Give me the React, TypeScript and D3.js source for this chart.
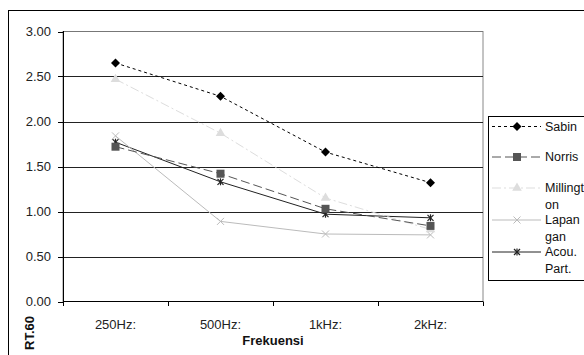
import React from 'react';
import * as d3 from 'd3';

const categories = ['250Hz:', '500Hz:', '1kHz:', '2kHz:'];
const yTicks = [0, 0.5, 1, 1.5, 2, 2.5, 3];

const sabin = [2.65, 2.28, 1.66, 1.32];
const norris = [1.72, 1.42, 1.03, 0.84];
const millington = [2.47, 1.87, 1.15, 0.8];
const lapangan = [1.84, 0.89, 0.75, 0.74];
const acouPart = [1.77, 1.33, 0.97, 0.93];

const seriesNames = ['Sabin', 'Norris', 'Millington', 'Lapangan', 'Acou. Part.'];
const legendLabels = [['Sabin'], ['Norris'], ['Millingt', 'on'], ['Lapan', 'gan'], ['Acou.', 'Part.']];

type Style = { color: string; dash: string; marker: string; markerColor: string; width: number };

const styles: Style[] = [
  { color: '#000', dash: '3,3', marker: 'diamond', markerColor: '#000', width: 1 },
  { color: '#555', dash: '9,4', marker: 'square', markerColor: '#555', width: 1 },
  { color: '#ddd', dash: '9,3,2,3', marker: 'triangle', markerColor: '#ddd', width: 1 },
  { color: '#bbb', dash: '', marker: 'x', markerColor: '#bbb', width: 1 },
  { color: '#222', dash: '', marker: 'star', markerColor: '#222', width: 1 },
];

const FONT = '"Liberation Sans", Arial, sans-serif';
const FS = 13;
const LEGEND_FS = 12.5;

function Marker({ kind, x, y, color }: { kind: string; x: number; y: number; color: string }) {
  if (kind === 'diamond') {
    const r = 4.5;
    return <path d={`M${x},${y - r}L${x + r},${y}L${x},${y + r}L${x - r},${y}Z`} fill={color} />;
  }
  if (kind === 'square') {
    return <rect x={x - 4} y={y - 4} width={8} height={8} fill={color} />;
  }
  if (kind === 'triangle') {
    const p = d3.symbol(d3.symbolTriangle, 40)();
    return <path d={p || ''} transform={`translate(${x},${y})`} fill={color} />;
  }
  if (kind === 'x') {
    return (
      <g stroke={color} strokeWidth={1}>
        <line x1={x - 3.5} y1={y - 3.5} x2={x + 3.5} y2={y + 3.5} />
        <line x1={x - 3.5} y1={y + 3.5} x2={x + 3.5} y2={y - 3.5} />
      </g>
    );
  }
  return (
    <g stroke={color} strokeWidth={1.2}>
      <line x1={x - 3} y1={y - 3} x2={x + 3} y2={y + 3} />
      <line x1={x - 3} y1={y + 3} x2={x + 3} y2={y - 3} />
      <line x1={x} y1={y - 3.5} x2={x} y2={y + 3.5} />
    </g>
  );
}

export default function App() {
  const data = [sabin, norris, millington, lapangan, acouPart];

  const x = d3.scaleBand<string>().domain(categories).range([63, 483]);
  const y = d3.scaleLinear().domain([0, 3]).range([301.5, 31.5]);

  const line = d3
    .line<number>()
    .x((_, i) => (x(categories[i]) || 0) + x.bandwidth() / 2)
    .y((d) => y(d));

  const bandEdges = categories.map((c) => x(c) || 0).concat([483]);

  const legendRows = [126.5, 157, 188, 220, 252];

  return (
    <svg
      width={584}
      height={355}
      style={{ position: 'absolute', left: 0, top: 0, background: '#fff' }}
      fontFamily={FONT}
    >
      <rect x={0} y={0} width={584} height={355} fill="#fff" />
      {/* outer border */}
      <rect x={8.5} y={10.5} width={590} height={360} fill="none" stroke="#000" strokeWidth={1} />

      {/* plot area */}
      <rect x={63} y={31.5} width={420} height={270} fill="#fff" stroke="#888" strokeWidth={1} />
      {yTicks.map((t) => (
        <g key={t}>
          {t > 0 && t < 3 && (
            <line x1={63} x2={483} y1={Math.round(y(t)) + 0.5} y2={Math.round(y(t)) + 0.5} stroke="#222" />
          )}
          <line x1={58} x2={63} y1={Math.round(y(t)) + 0.5} y2={Math.round(y(t)) + 0.5} stroke="#000" />
          <text x={51} y={y(t)} dy="0.35em" textAnchor="end" fontSize={FS} fill="#222">
            {t.toFixed(2)}
          </text>
        </g>
      ))}
      <line x1={63} x2={483} y1={31.5} y2={31.5} stroke="#777" />
      {/* axes */}
      <line x1={63.5} x2={63.5} y1={31} y2={302} stroke="#000" />
      <line x1={63} x2={483} y1={301.5} y2={301.5} stroke="#000" />
      {bandEdges.map((e, i) => (
        <line key={i} x1={Math.round(e) + 0.5} x2={Math.round(e) + 0.5} y1={301.5} y2={306} stroke="#000" />
      ))}
      {categories.map((c) => (
        <text key={c} x={(x(c) || 0) + x.bandwidth() / 2} y={328.5} textAnchor="middle" fontSize={FS} fill="#222">
          {c}
        </text>
      ))}
      <text x={273} y={345} textAnchor="middle" fontSize={FS} fontWeight="bold" fill="#111">
        Frekuensi
      </text>
      <text
        transform="translate(34,333) rotate(-90)"
        textAnchor="middle"
        fontSize={FS}
        fontWeight="bold"
        fill="#111"
      >
        RT.60
      </text>

      {/* series */}
      {data
        .map((vals, si) => ({ vals, si }))
        .reverse()
        .map(({ vals, si }) => {
          const s = styles[si];
          return (
            <g key={seriesNames[si]}>
              <path d={line(vals) || ''} fill="none" stroke={s.color} strokeWidth={s.width} strokeDasharray={s.dash} />
              {vals.map((v, i) => (
                <Marker
                  key={i}
                  kind={s.marker}
                  x={(x(categories[i]) || 0) + x.bandwidth() / 2}
                  y={y(v)}
                  color={s.markerColor}
                />
              ))}
            </g>
          );
        })}

      {/* legend */}
      <rect x={488.5} y={116.5} width={100} height={164} fill="#fff" stroke="#000" />
      {legendLabels.map((lbl, i) => {
        const s = styles[i];
        const ly = legendRows[i];
        return (
          <g key={seriesNames[i]}>
            <line x1={492} x2={541} y1={ly} y2={ly} stroke={s.color} strokeDasharray={s.dash} />
            <Marker kind={s.marker} x={517} y={ly} color={s.markerColor} />
            {lbl.map((t, j) => (
              <text key={j} x={545} y={ly + j * 17} dy="0.35em" fontSize={LEGEND_FS} fill="#111">
                {t}
              </text>
            ))}
          </g>
        );
      })}
    </svg>
  );
}
